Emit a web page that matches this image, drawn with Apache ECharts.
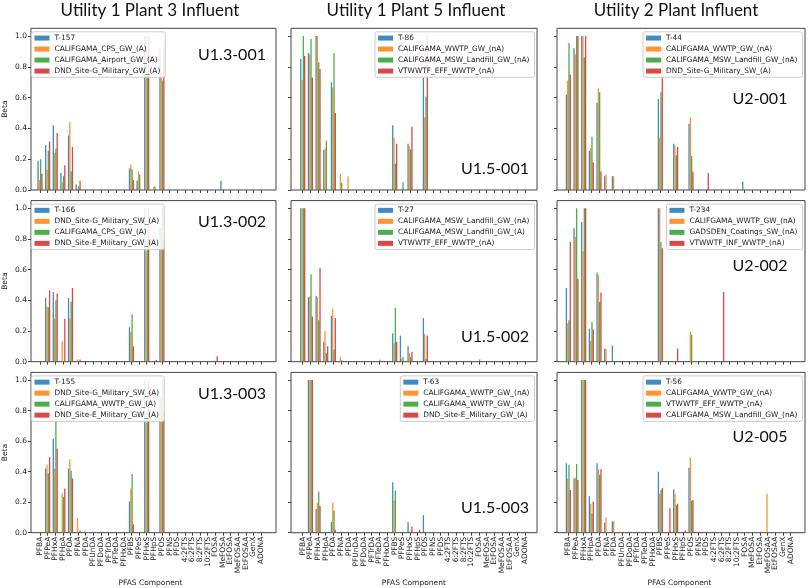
<!DOCTYPE html>
<html><head><meta charset="utf-8">
<script src="https://cdn.jsdelivr.net/npm/echarts@6/dist/echarts.min.js"></script>
<style>html,body{margin:0;padding:0;background:#fff}#c{width:808px;height:588px}</style>
</head><body><div id="c"></div>
<script>
const categories = ['PFBA','PFPeA','PFHxA','PFHpA','PFOA','PFNA','PFDA','PFUnDA','PFDoDA','PFTrDA',
  'PFTeDA','PFHxDA','PFBS','PFPeS','PFHxS','PFHpS','PFOS','PFNS','PFDS','4:2FTS',
  '6:2FTS','8:2FTS','10:2FTS','FOSA','MeFOSA','EtFOSA','MeFOSAA','EtFOSAA','GenX','ADONA'];
const columnTitles = ['Utility 1 Plant 3 Influent','Utility 1 Plant 5 Influent','Utility 2 Plant Influent'];
const yTicks = [0, 0.2, 0.4, 0.6, 0.8, 1.0];

// ---- Row 1 ----
const U13_001_names = ['T-157','CALIFGAMA_CPS_GW_(A)','CALIFGAMA_Airport_GW_(A)','DND_Site-G_Military_GW_(A)'];
const U13_001_values = [
  [0.19,0.29,0.42,0.11,0.355,0.035,0,0,0,0, 0,0,0.14,0.06,1.0,0,0.92,0,0,0, 0,0,0,0,0.06,0,0,0,0,0],
  [0.065,0.13,0.24,0.05,0.44,0.008,0,0,0,0, 0,0,0.165,0.12,1.0,0.02,0.73,0,0,0, 0,0,0,0,0,0,0,0,0,0],
  [0.2,0.255,0.27,0.09,0.12,0.025,0,0,0,0, 0,0,0.135,0.1,0.75,0.025,0.71,0,0,0, 0,0,0,0,0,0,0,0,0,0],
  [0.105,0.315,0.37,0.16,0.28,0.06,0,0,0,0, 0,0,0.065,0,1.0,0,0.925,0,0,0, 0,0,0,0,0,0,0,0,0,0]
];
const U15_001_names = ['T-86','CALIFGAMA_WWTP_GW_(nA)','CALIFGAMA_MSW_Landfill_GW_(nA)','VTWWTF_EFF_WWTP_(nA)'];
const U15_001_values = [
  [0.85,0.89,1.0,0.26,0.70,0,0,0,0,0, 0,0,0.42,0,0.30,0,0.74,0,0,0, 0,0,0,0,0,0,0,0,0,0],
  [0.715,0.88,1.0,0.27,0.665,0.105,0.09,0,0,0, 0,0,0.34,0,0.285,0,0.47,0,0,0, 0,0,0,0,0,0,0,0,0,0],
  [1.0,0.98,0.83,0.32,0.89,0.045,0,0,0,0, 0,0,0.17,0.05,0.265,0,0.605,0,0,0, 0,0,0,0,0,0,0,0,0,0],
  [0.87,0.73,0.785,0,0.50,0,0,0,0,0, 0,0,0.30,0,0.41,0,1.0,0,0,0, 0,0,0,0,0,0,0,0,0,0]
];
const U2_001_names = ['T-44','CALIFGAMA_WWTP_GW_(nA)','CALIFGAMA_MSW_Landfill_GW_(nA)','DND_Site-G_Military_SW_(A)'];
const U2_001_values = [
  [0.62,0.92,1.0,0.255,0.565,0.09,0.09,0,0,0, 0,0,0.59,0,0.30,0,0.43,0,0,0, 0,0,0,0.055,0,0,0,0,0,0],
  [0.71,0.88,1.0,0.27,0.66,0.10,0.09,0,0,0, 0,0,0.34,0,0.285,0,0.47,0,0,0, 0,0,0,0,0,0,0,0,0,0],
  [0.955,1.0,0.86,0.345,0.635,0,0,0,0,0, 0,0,0.635,0,0.225,0,0.22,0,0,0, 0,0,0,0,0,0,0,0,0,0],
  [0.75,1.0,1.0,0.18,0.12,0,0,0,0,0, 0,0,0.92,0,0.28,0,0.12,0,0.11,0, 0,0,0,0,0,0,0,0,0,0]
];
// ---- Row 2 ----
const U13_002_names = ['T-166','DND_Site-G_Military_SW_(A)','CALIFGAMA_CPS_GW_(A)','DND_Site-E_Military_GW_(A)'];
const U13_002_values = [
  [0,0.415,0.455,0,0.415,0,0,0,0,0, 0,0,0.225,0,1.0,0,0.87,0,0,0, 0,0,0,0,0,0,0,0,0,0],
  [0,0.36,0.28,0.135,0.28,0.015,0,0,0,0, 0,0,0.195,0,0.72,0,0.87,0,0,0, 0,0,0,0,0,0,0,0,0,0],
  [0,0.355,0.40,0,0.39,0,0,0,0,0, 0,0,0.31,0,0.8,0,1.0,0,0,0, 0,0,0,0,0,0,0,0,0,0],
  [0,0.465,0.445,0.28,0.48,0.015,0,0,0,0, 0,0,0.10,0,1.0,0.012,0.79,0,0,0, 0,0,0,0.035,0,0,0,0,0,0]
];
const U15_002_names = ['T-27','CALIFGAMA_MSW_Landfill_GW_(nA)','CALIFGAMA_MSW_Landfill_GW_(A)','VTWWTF_EFF_WWTP_(nA)'];
const U15_002_values = [
  [1.0,0.42,0.43,0.13,0.30,0,0,0,0,0, 0,0,0.185,0.17,0.10,0,0.285,0,0,0, 0,0,0,0,0,0,0,0,0,0],
  [1.0,0.425,0.42,0.20,0.345,0.03,0,0,0,0, 0,0,0.12,0.02,0.055,0,0.18,0,0,0, 0,0,0,0,0,0,0,0,0,0],
  [1.0,0.57,0.27,0.055,0.08,0.01,0,0,0,0, 0.012,0,0.35,0.03,0.03,0,0.02,0,0,0, 0,0,0,0.015,0,0,0,0,0,0],
  [1.0,0.295,0.61,0.10,0.285,0,0.005,0,0,0, 0,0,0.13,0,0.065,0,0.17,0,0,0, 0,0,0,0,0,0,0,0,0,0]
];
const U2_002_names = ['T-234','CALIFGAMA_WWTP_GW_(nA)','GADSDEN_Coatings_SW_(nA)','VTWWTF_INF_WWTP_(nA)'];
const U2_002_values = [
  [0.48,0.87,0.91,0.215,0.58,0.085,0.105,0,0,0, 0,0,1.0,0,0,0,0,0,0,0, 0,0,0,0,0,0,0,0,0,0],
  [0.25,0.815,0.72,0.135,0.565,0.085,0,0,0,0, 0,0,1.0,0,0,0,0.195,0,0,0, 0,0,0,0,0,0,0,0,0,0],
  [0.27,1.0,1.0,0.26,0.39,0,0,0,0,0, 0,0,0.78,0,0,0,0.175,0,0,0, 0,0,0,0,0,0,0,0,0,0],
  [0.78,0.54,1.0,0.21,0.45,0,0,0,0,0, 0,0,0.74,0,0.085,0,0,0,0,0, 0.455,0,0,0,0,0,0,0,0,0]
];
// ---- Row 3 ----
const U13_003_names = ['T-155','DND_Site-G_Military_SW_(A)','CALIFGAMA_WWTP_GW_(A)','DND_Site-E_Military_GW_(A)'];
const U13_003_values = [
  [0,0.42,0.615,0,0.42,0,0,0,0,0, 0,0,0.205,0,1.0,0,0.88,0,0,0, 0,0,0,0,0,0,0,0,0,0],
  [0,0.445,0.42,0.26,0.48,0.095,0.015,0,0,0, 0,0,0.29,0,0.72,0,0.88,0,0,0, 0,0,0,0,0,0,0,0,0,0],
  [0,0.39,0.73,0.235,0.405,0,0,0,0,0, 0,0,0.385,0,0.8,0,1.0,0,0,0, 0,0,0,0,0,0,0,0,0,0],
  [0,0.495,0.55,0.29,0.355,0.015,0,0,0,0, 0,0,0.055,0,1.0,0,0.785,0,0,0, 0,0,0,0,0,0,0,0,0,0]
];
const U15_003_names = ['T-63','CALIFGAMA_WWTP_GW_(nA)','CALIFGAMA_WWTP_GW_(A)','DND_Site-E_Military_GW_(A)'];
const U15_003_values = [
  [0,1.0,0.155,0,0.07,0,0,0,0,0, 0,0,0.33,0,0.07,0,0.115,0,0,0, 0,0,0,0,0,0,0,0,0,0],
  [0,1.0,0.195,0,0.195,0,0,0,0,0, 0,0,0.21,0,0,0,0,0,0,0, 0,0,0,0,0,0,0,0,0,0],
  [0,1.0,0.27,0,0.145,0,0,0,0,0, 0,0,0.275,0,0,0,0,0,0,0, 0,0,0,0,0,0,0,0,0,0],
  [0,1.0,0.175,0,0.02,0,0,0,0,0, 0,0,0,0,0.04,0.02,0,0,0,0, 0,0,0,0,0,0,0,0,0,0]
];
const U2_005_names = ['T-56','CALIFGAMA_WWTP_GW_(nA)','VTWWTF_EFF_WWTP_(nA)','CALIFGAMA_MSW_Landfill_GW_(nA)'];
const U2_005_values = [
  [0.455,0.355,1.0,0.24,0.455,0.065,0.075,0,0,0, 0,0,0.40,0,0.285,0,0.425,0,0,0, 0,0,0,0,0,0,0,0,0,0],
  [0.355,0.36,1.0,0.19,0.415,0.10,0.075,0,0,0, 0,0,0.255,0,0.255,0,0.495,0,0,0, 0,0,0,0,0,0,0.255,0,0,0],
  [0.445,0.45,1.0,0.125,0.38,0,0,0,0,0, 0,0,0.28,0,0.18,0,0.21,0,0,0, 0,0,0,0,0,0,0,0,0,0],
  [0.28,0.345,1.0,0.205,0.415,0,0,0,0,0, 0,0,0.295,0.16,0.19,0.015,0.215,0,0,0, 0,0,0,0,0,0,0,0,0,0]
];

const panels = [
  {label:'U1.3-001', names:U13_001_names, values:U13_001_values},
  {label:'U1.5-001', names:U15_001_names, values:U15_001_values},
  {label:'U2-001',   names:U2_001_names,  values:U2_001_values},
  {label:'U1.3-002', names:U13_002_names, values:U13_002_values},
  {label:'U1.5-002', names:U15_002_names, values:U15_002_values},
  {label:'U2-002',   names:U2_002_names,  values:U2_002_values},
  {label:'U1.3-003', names:U13_003_names, values:U13_003_values},
  {label:'U1.5-003', names:U15_003_names, values:U15_003_values},
  {label:'U2-005',   names:U2_005_names,  values:U2_005_values}
];

// layout (pixels)
const colors = ['#1f77b4','#ff7f0e','#2ca02c','#d62728'];
const colFrame = [[30,276],[291,537],[557,805]];
const colData = [[36.2,264.8],[298.9,528.8],[564.5,794.5]];
const rowSpan = [[28.3,190],[200.6,361.7],[372.4,532.7]];
const titleX = [150,416,676];
const labelPos = [[232,55],[495,169],[760,99],[232,222],[495,337],[760,265.5],[232,393.5],[495,508],[760,437]];

const grids=[], xAxes=[], yAxes=[], series=[], legends=[], graphics=[];
const txt = {color:'#222', fontFamily:'DejaVu Sans'};

panels.forEach((p, i) => {
  const r = Math.floor(i/3), c = i % 3;
  const [fl, fr] = colFrame[c], [dl, dr] = colData[c], [t, b] = rowSpan[r];
  const gf = 2*i, gd = 2*i+1;
  grids.push({left: fl, top: t, width: fr-fl, height: b-t, show: true, borderColor:'#444', borderWidth:1, backgroundColor:'transparent'});
  grids.push({left: dl, top: t, width: dr-dl, height: b-t});
  xAxes.push({type:'value', gridIndex: gf, show:false, min:0, max:1});
  xAxes.push({type:'category', gridIndex: gd, data: categories,
    axisLine:{show:false},
    axisTick:{show:true, alignWithLabel:true, interval:0, length:3, lineStyle:{color:'#444'}},
    axisLabel:Object.assign({show: r===2, rotate:90, interval:0, fontSize:7.5, margin:4}, txt),
    splitLine:{show:false},
    name: r===2 ? 'PFAS Component' : '', nameLocation:'middle', nameGap:46,
    nameTextStyle:Object.assign({fontSize:7.5}, txt)});
  yAxes.push({type:'value', gridIndex: gf, min:0, max:1.05,
    axisLine:{show:false}, splitLine:{show:false},
    axisTick:{show:true, length:3, customValues:yTicks, lineStyle:{color:'#444'}},
    axisLabel:Object.assign({show: c===0, customValues:yTicks, fontSize:7.5, margin:4,
      formatter: v => (Math.abs(v*5 - Math.round(v*5)) < 1e-6 ? v.toFixed(1) : '')}, txt),
    name: c===0 ? 'Beta' : '', nameLocation:'middle', nameGap:22,
    nameTextStyle:Object.assign({fontSize:7.5}, txt)});
  yAxes.push({type:'value', gridIndex: gd, min:0, max:1.05, show:false});
  p.values.forEach((vals, k) => {
    series.push({type:'bar', name: i + '|' + p.names[k], xAxisIndex: gd, yAxisIndex: gd,
      data: vals, barWidth: 1.3, barGap: '0%', itemStyle:{color: colors[k], opacity:0.85}, silent:true});
  });
  const lg = {data: p.names.map(n => i + '|' + n), orient:'vertical', top: t + 3.5,
    itemWidth:15, itemHeight:5, itemGap:2.5, icon:'rect', selectedMode:false,
    formatter: n => n.split('|')[1],
    textStyle:Object.assign({fontSize:7.4, lineHeight:8.5}, txt),
    padding:[2,5,2,3], borderColor:'#ccc', borderWidth:1, borderRadius:2, backgroundColor:'rgba(255,255,255,0.85)'};
  if (c === 0) lg.left = fl + 1.5; else lg.right = 808 - (fr - 2.5);
  legends.push(lg);
  graphics.push({type:'text', x: labelPos[i][0], y: labelPos[i][1],
    style:{text: p.label, fontSize:16, fontFamily:'Lato', fill:'#111', align:'center', verticalAlign:'middle', textAlign:'center', textVerticalAlign:'middle'}});
});
columnTitles.forEach((tt, c) => {
  graphics.push({type:'text', x: titleX[c], y: 11,
    style:{text: tt, fontSize:17, fontFamily:'Lato', fill:'#111', align:'center', verticalAlign:'middle', textAlign:'center', textVerticalAlign:'middle'}});
});

const chart = echarts.init(document.getElementById('c'), null, {renderer:'canvas'});
chart.setOption({animation:false, backgroundColor:'#fff', grid:grids, xAxis:xAxes, yAxis:yAxes, series, legend:legends, graphic:{elements:graphics}});
</script></body></html>
